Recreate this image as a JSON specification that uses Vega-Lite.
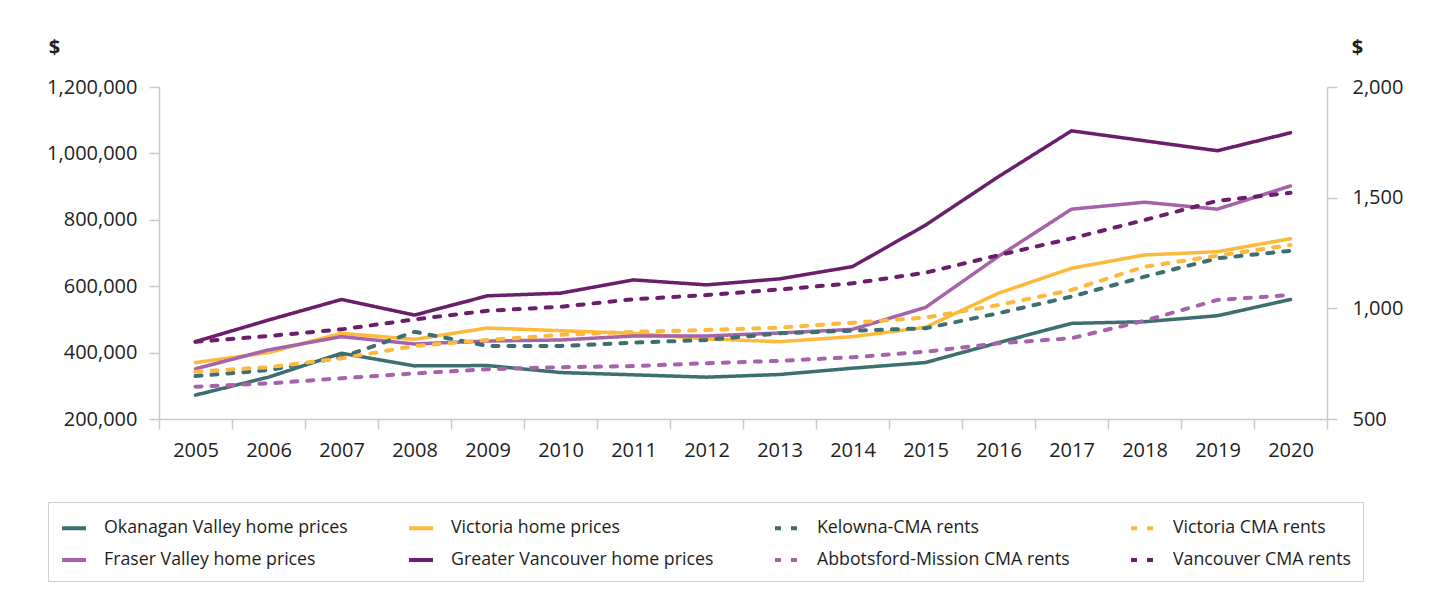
{
  "$schema": "https://vega.github.io/schema/vega-lite/v6.json",
  "width": 1168,
  "height": 332,
  "autosize": {"type": "none"},
  "padding": {"left": 159, "top": 87, "right": 121, "bottom": 189},
  "background": "white",
  "config": {
    "font": "Open Sans",
    "view": {"stroke": null},
    "axis": {
      "labelFont": "Open Sans",
      "labelFontSize": 20,
      "labelColor": "#1e1e1e",
      "domainColor": "#cacaca",
      "tickColor": "#cacaca",
      "domainWidth": 1.5,
      "tickWidth": 1.5,
      "tickSize": 10,
      "grid": false,
      "titleFont": "Open Sans",
      "titleFontSize": 20,
      "titleFontWeight": "bold",
      "titleColor": "#1e1e1e"
    },
    "legend": {
      "labelFont": "Open Sans",
      "labelFontSize": 17.75,
      "labelColor": "#1e1e1e",
      "labelLimit": 400
    }
  },
  "datasets": {
    "prices": [
      {"year": "2005", "series": "Okanagan Valley home prices", "value": 272000},
      {"year": "2006", "series": "Okanagan Valley home prices", "value": 326000},
      {"year": "2007", "series": "Okanagan Valley home prices", "value": 398000},
      {"year": "2008", "series": "Okanagan Valley home prices", "value": 360000},
      {"year": "2009", "series": "Okanagan Valley home prices", "value": 361000},
      {"year": "2010", "series": "Okanagan Valley home prices", "value": 340000},
      {"year": "2011", "series": "Okanagan Valley home prices", "value": 333000},
      {"year": "2012", "series": "Okanagan Valley home prices", "value": 326000},
      {"year": "2013", "series": "Okanagan Valley home prices", "value": 334000},
      {"year": "2014", "series": "Okanagan Valley home prices", "value": 353000},
      {"year": "2015", "series": "Okanagan Valley home prices", "value": 370000},
      {"year": "2016", "series": "Okanagan Valley home prices", "value": 430000},
      {"year": "2017", "series": "Okanagan Valley home prices", "value": 488000},
      {"year": "2018", "series": "Okanagan Valley home prices", "value": 493000},
      {"year": "2019", "series": "Okanagan Valley home prices", "value": 511000},
      {"year": "2020", "series": "Okanagan Valley home prices", "value": 560000},
      {"year": "2005", "series": "Victoria home prices", "value": 370000},
      {"year": "2006", "series": "Victoria home prices", "value": 400000},
      {"year": "2007", "series": "Victoria home prices", "value": 458000},
      {"year": "2008", "series": "Victoria home prices", "value": 440000},
      {"year": "2009", "series": "Victoria home prices", "value": 474000},
      {"year": "2010", "series": "Victoria home prices", "value": 466000},
      {"year": "2011", "series": "Victoria home prices", "value": 458000},
      {"year": "2012", "series": "Victoria home prices", "value": 441000},
      {"year": "2013", "series": "Victoria home prices", "value": 433000},
      {"year": "2014", "series": "Victoria home prices", "value": 448000},
      {"year": "2015", "series": "Victoria home prices", "value": 476000},
      {"year": "2016", "series": "Victoria home prices", "value": 579000},
      {"year": "2017", "series": "Victoria home prices", "value": 654000},
      {"year": "2018", "series": "Victoria home prices", "value": 694000},
      {"year": "2019", "series": "Victoria home prices", "value": 704000},
      {"year": "2020", "series": "Victoria home prices", "value": 743000},
      {"year": "2005", "series": "Fraser Valley home prices", "value": 351000},
      {"year": "2006", "series": "Fraser Valley home prices", "value": 408000},
      {"year": "2007", "series": "Fraser Valley home prices", "value": 448000},
      {"year": "2008", "series": "Fraser Valley home prices", "value": 426000},
      {"year": "2009", "series": "Fraser Valley home prices", "value": 435000},
      {"year": "2010", "series": "Fraser Valley home prices", "value": 438000},
      {"year": "2011", "series": "Fraser Valley home prices", "value": 450000},
      {"year": "2012", "series": "Fraser Valley home prices", "value": 450000},
      {"year": "2013", "series": "Fraser Valley home prices", "value": 459000},
      {"year": "2014", "series": "Fraser Valley home prices", "value": 470000},
      {"year": "2015", "series": "Fraser Valley home prices", "value": 536000},
      {"year": "2016", "series": "Fraser Valley home prices", "value": 690000},
      {"year": "2017", "series": "Fraser Valley home prices", "value": 832000},
      {"year": "2018", "series": "Fraser Valley home prices", "value": 853000},
      {"year": "2019", "series": "Fraser Valley home prices", "value": 832000},
      {"year": "2020", "series": "Fraser Valley home prices", "value": 902000},
      {"year": "2005", "series": "Greater Vancouver home prices", "value": 433000},
      {"year": "2006", "series": "Greater Vancouver home prices", "value": 498000},
      {"year": "2007", "series": "Greater Vancouver home prices", "value": 560000},
      {"year": "2008", "series": "Greater Vancouver home prices", "value": 513000},
      {"year": "2009", "series": "Greater Vancouver home prices", "value": 571000},
      {"year": "2010", "series": "Greater Vancouver home prices", "value": 579000},
      {"year": "2011", "series": "Greater Vancouver home prices", "value": 619000},
      {"year": "2012", "series": "Greater Vancouver home prices", "value": 604000},
      {"year": "2013", "series": "Greater Vancouver home prices", "value": 622000},
      {"year": "2014", "series": "Greater Vancouver home prices", "value": 659000},
      {"year": "2015", "series": "Greater Vancouver home prices", "value": 784000},
      {"year": "2016", "series": "Greater Vancouver home prices", "value": 930000},
      {"year": "2017", "series": "Greater Vancouver home prices", "value": 1068000},
      {"year": "2018", "series": "Greater Vancouver home prices", "value": 1038000},
      {"year": "2019", "series": "Greater Vancouver home prices", "value": 1008000},
      {"year": "2020", "series": "Greater Vancouver home prices", "value": 1062000}
    ],
    "rents": [
      {"year": "2005", "series": "Kelowna-CMA rents", "value": 694},
      {"year": "2006", "series": "Kelowna-CMA rents", "value": 721},
      {"year": "2007", "series": "Kelowna-CMA rents", "value": 779},
      {"year": "2008", "series": "Kelowna-CMA rents", "value": 894},
      {"year": "2009", "series": "Kelowna-CMA rents", "value": 830},
      {"year": "2010", "series": "Kelowna-CMA rents", "value": 830},
      {"year": "2011", "series": "Kelowna-CMA rents", "value": 845},
      {"year": "2012", "series": "Kelowna-CMA rents", "value": 857},
      {"year": "2013", "series": "Kelowna-CMA rents", "value": 887},
      {"year": "2014", "series": "Kelowna-CMA rents", "value": 899},
      {"year": "2015", "series": "Kelowna-CMA rents", "value": 910},
      {"year": "2016", "series": "Kelowna-CMA rents", "value": 978},
      {"year": "2017", "series": "Kelowna-CMA rents", "value": 1053},
      {"year": "2018", "series": "Kelowna-CMA rents", "value": 1143},
      {"year": "2019", "series": "Kelowna-CMA rents", "value": 1226},
      {"year": "2020", "series": "Kelowna-CMA rents", "value": 1260},
      {"year": "2005", "series": "Victoria CMA rents", "value": 714},
      {"year": "2006", "series": "Victoria CMA rents", "value": 734},
      {"year": "2007", "series": "Victoria CMA rents", "value": 774},
      {"year": "2008", "series": "Victoria CMA rents", "value": 830},
      {"year": "2009", "series": "Victoria CMA rents", "value": 857},
      {"year": "2010", "series": "Victoria CMA rents", "value": 880},
      {"year": "2011", "series": "Victoria CMA rents", "value": 894},
      {"year": "2012", "series": "Victoria CMA rents", "value": 902},
      {"year": "2013", "series": "Victoria CMA rents", "value": 913},
      {"year": "2014", "series": "Victoria CMA rents", "value": 935},
      {"year": "2015", "series": "Victoria CMA rents", "value": 958},
      {"year": "2016", "series": "Victoria CMA rents", "value": 1015},
      {"year": "2017", "series": "Victoria CMA rents", "value": 1083},
      {"year": "2018", "series": "Victoria CMA rents", "value": 1188},
      {"year": "2019", "series": "Victoria CMA rents", "value": 1238},
      {"year": "2020", "series": "Victoria CMA rents", "value": 1286},
      {"year": "2005", "series": "Abbotsford-Mission CMA rents", "value": 646},
      {"year": "2006", "series": "Abbotsford-Mission CMA rents", "value": 661},
      {"year": "2007", "series": "Abbotsford-Mission CMA rents", "value": 684},
      {"year": "2008", "series": "Abbotsford-Mission CMA rents", "value": 706},
      {"year": "2009", "series": "Abbotsford-Mission CMA rents", "value": 725},
      {"year": "2010", "series": "Abbotsford-Mission CMA rents", "value": 734},
      {"year": "2011", "series": "Abbotsford-Mission CMA rents", "value": 739},
      {"year": "2012", "series": "Abbotsford-Mission CMA rents", "value": 752},
      {"year": "2013", "series": "Abbotsford-Mission CMA rents", "value": 763},
      {"year": "2014", "series": "Abbotsford-Mission CMA rents", "value": 779},
      {"year": "2015", "series": "Abbotsford-Mission CMA rents", "value": 804},
      {"year": "2016", "series": "Abbotsford-Mission CMA rents", "value": 842},
      {"year": "2017", "series": "Abbotsford-Mission CMA rents", "value": 865},
      {"year": "2018", "series": "Abbotsford-Mission CMA rents", "value": 944},
      {"year": "2019", "series": "Abbotsford-Mission CMA rents", "value": 1038},
      {"year": "2020", "series": "Abbotsford-Mission CMA rents", "value": 1060},
      {"year": "2005", "series": "Vancouver CMA rents", "value": 849},
      {"year": "2006", "series": "Vancouver CMA rents", "value": 875},
      {"year": "2007", "series": "Vancouver CMA rents", "value": 905},
      {"year": "2008", "series": "Vancouver CMA rents", "value": 950},
      {"year": "2009", "series": "Vancouver CMA rents", "value": 989},
      {"year": "2010", "series": "Vancouver CMA rents", "value": 1007},
      {"year": "2011", "series": "Vancouver CMA rents", "value": 1041},
      {"year": "2012", "series": "Vancouver CMA rents", "value": 1060},
      {"year": "2013", "series": "Vancouver CMA rents", "value": 1085},
      {"year": "2014", "series": "Vancouver CMA rents", "value": 1113},
      {"year": "2015", "series": "Vancouver CMA rents", "value": 1161},
      {"year": "2016", "series": "Vancouver CMA rents", "value": 1240},
      {"year": "2017", "series": "Vancouver CMA rents", "value": 1316},
      {"year": "2018", "series": "Vancouver CMA rents", "value": 1399},
      {"year": "2019", "series": "Vancouver CMA rents", "value": 1486},
      {"year": "2020", "series": "Vancouver CMA rents", "value": 1522}
    ]
  },
  "encoding": {
    "x": {
      "field": "year",
      "type": "ordinal",
      "bandPosition": 0.5,
      "scale": {"type": "band", "paddingInner": 0, "paddingOuter": 0},
      "axis": {"title": null, "labelAngle": 0, "tickBand": "extent", "labelPadding": 11}
    },
    "color": {
      "field": "series",
      "type": "nominal",
      "scale": {
        "domain": ["Okanagan Valley home prices", "Victoria home prices", "Kelowna-CMA rents", "Victoria CMA rents", "Fraser Valley home prices", "Greater Vancouver home prices", "Abbotsford-Mission CMA rents", "Vancouver CMA rents"],
        "range": ["#3e6f70", "#fdb93c", "#3e6f70", "#fdb93c", "#a663a9", "#6b1e6b", "#a663a9", "#6b1e6b"]
      },
      "legend": {
        "title": null,
        "orient": "none",
        "legendX": -111,
        "legendY": 415,
        "direction": "horizontal",
        "columns": 4,
        "columnPadding": 53,
        "rowPadding": 9,
        "padding": 12,
        "labelOffset": 16,
        "symbolType": "stroke",
        "symbolSize": 576,
        "symbolStrokeWidth": 4,
        "strokeColor": "#cfcfcf",
        "fillColor": "white"
      }
    },
    "strokeDash": {
      "field": "series",
      "type": "nominal",
      "scale": {
        "domain": ["Okanagan Valley home prices", "Victoria home prices", "Kelowna-CMA rents", "Victoria CMA rents", "Fraser Valley home prices", "Greater Vancouver home prices", "Abbotsford-Mission CMA rents", "Vancouver CMA rents"],
        "range": [[1, 0], [1, 0], [6, 10], [6, 10], [1, 0], [1, 0], [6, 10], [6, 10]]
      },
      "legend": {
        "title": null,
        "orient": "none",
        "legendX": -111,
        "legendY": 415,
        "direction": "horizontal",
        "columns": 4
      }
    }
  },
  "layer": [
    {
      "data": {"name": "prices"},
      "mark": {"type": "line", "strokeWidth": 3.5, "strokeCap": "round", "strokeJoin": "round"},
      "encoding": {
        "y": {
          "field": "value",
          "type": "quantitative",
          "scale": {"domain": [200000, 1200000], "nice": false, "zero": false},
          "axis": {
            "orient": "left",
            "values": [200000, 400000, 600000, 800000, 1000000, 1200000],
            "format": ",d",
            "labelPadding": 12,
            "title": "$",
            "titleAngle": 0,
            "titleAlign": "center",
            "titleBaseline": "middle",
            "titleX": -105,
            "titleY": -40
          }
        }
      }
    },
    {
      "data": {"name": "rents"},
      "mark": {"type": "line", "strokeWidth": 4, "strokeCap": "round", "strokeJoin": "round"},
      "encoding": {
        "y": {
          "field": "value",
          "type": "quantitative",
          "scale": {"domain": [500, 2000], "nice": false, "zero": false},
          "axis": {
            "orient": "right",
            "values": [500, 1000, 1500, 2000],
            "format": ",d",
            "labelPadding": 15,
            "title": "$",
            "titleAngle": 0,
            "titleAlign": "center",
            "titleBaseline": "middle",
            "titleX": 30,
            "titleY": -40
          }
        }
      }
    }
  ],
  "resolve": {"scale": {"y": "independent"}}
}
